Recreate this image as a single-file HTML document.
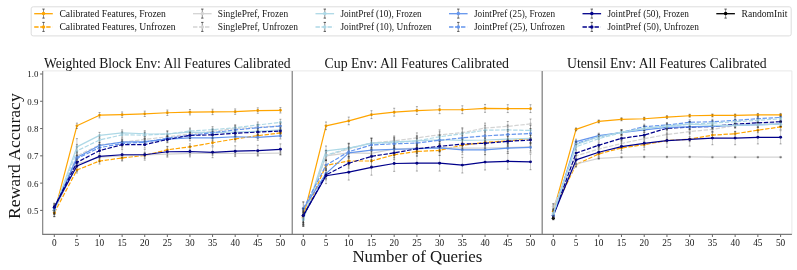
<!DOCTYPE html><html><head><meta charset="utf-8"><style>html,body{margin:0;padding:0;background:#fff;}svg{display:block;will-change:transform;}text{font-family:"Liberation Serif",serif;fill:#151515;}</style></head><body>
<svg width="797" height="270" viewBox="0 0 797 270">
<path d="M42.7 70.9H292.4V234.4" fill="none" stroke="#e8e8e8" stroke-width="1"/>
<path d="M292.2 70.9H541.9V234.4" fill="none" stroke="#e8e8e8" stroke-width="1"/>
<path d="M542.2 70.9H791.9V234.4" fill="none" stroke="#e8e8e8" stroke-width="1"/>
<circle cx="54.30" cy="210.40" r="1.6" fill="#000"/>
<path d="M54.30 204.40V216.40" fill="none" stroke="#333" stroke-width="0.5" stroke-opacity="0.5"/><path d="M53.30 204.40h2.0M53.30 216.40h2.0" fill="none" stroke="#222" stroke-width="0.6" stroke-opacity="0.65"/>
<polyline points="54.30,212.86 76.91,125.83 99.52,115.19 122.13,114.65 144.74,113.83 167.35,112.74 189.96,112.19 212.57,111.92 235.18,111.65 257.79,110.56 280.40,110.28" fill="none" stroke="#FFA500" stroke-width="1.2" stroke-linejoin="round"/>
<circle cx="54.30" cy="212.86" r="1.45" fill="#FFA500"/>
<circle cx="76.91" cy="125.83" r="1.45" fill="#FFA500"/>
<circle cx="99.52" cy="115.19" r="1.45" fill="#FFA500"/>
<circle cx="122.13" cy="114.65" r="1.45" fill="#FFA500"/>
<circle cx="144.74" cy="113.83" r="1.45" fill="#FFA500"/>
<circle cx="167.35" cy="112.74" r="1.45" fill="#FFA500"/>
<circle cx="189.96" cy="112.19" r="1.45" fill="#FFA500"/>
<circle cx="212.57" cy="111.92" r="1.45" fill="#FFA500"/>
<circle cx="235.18" cy="111.65" r="1.45" fill="#FFA500"/>
<circle cx="257.79" cy="110.56" r="1.45" fill="#FFA500"/>
<circle cx="280.40" cy="110.28" r="1.45" fill="#FFA500"/>
<path d="M54.30 209.04V216.67M76.91 123.13V128.53M99.52 112.49V117.89M122.13 111.95V117.35M144.74 111.13V116.53M167.35 110.04V115.44M189.96 109.49V114.89M212.57 109.22V114.62M235.18 108.95V114.35M257.79 107.85V113.26M280.40 107.58V112.98" fill="none" stroke="#333" stroke-width="0.5" stroke-opacity="0.5"/><path d="M53.30 209.04h2.0M53.30 216.67h2.0M75.91 123.13h2.0M75.91 128.53h2.0M98.52 112.49h2.0M98.52 117.89h2.0M121.13 111.95h2.0M121.13 117.35h2.0M143.74 111.13h2.0M143.74 116.53h2.0M166.35 110.04h2.0M166.35 115.44h2.0M188.96 109.49h2.0M188.96 114.89h2.0M211.57 109.22h2.0M211.57 114.62h2.0M234.18 108.95h2.0M234.18 114.35h2.0M256.79 107.85h2.0M256.79 113.26h2.0M279.40 107.58h2.0M279.40 112.98h2.0" fill="none" stroke="#222" stroke-width="0.6" stroke-opacity="0.65"/>
<polyline points="54.30,212.86 76.91,170.03 99.52,161.02 122.13,158.02 144.74,155.29 167.35,149.84 189.96,146.84 212.57,142.75 235.18,138.93 257.79,135.65 280.40,132.92" fill="none" stroke="#FFA500" stroke-width="1.2" stroke-linejoin="round" stroke-dasharray="4.4 1.6"/>
<circle cx="54.30" cy="212.86" r="1.45" fill="#FFA500"/>
<circle cx="76.91" cy="170.03" r="1.45" fill="#FFA500"/>
<circle cx="99.52" cy="161.02" r="1.45" fill="#FFA500"/>
<circle cx="122.13" cy="158.02" r="1.45" fill="#FFA500"/>
<circle cx="144.74" cy="155.29" r="1.45" fill="#FFA500"/>
<circle cx="167.35" cy="149.84" r="1.45" fill="#FFA500"/>
<circle cx="189.96" cy="146.84" r="1.45" fill="#FFA500"/>
<circle cx="212.57" cy="142.75" r="1.45" fill="#FFA500"/>
<circle cx="235.18" cy="138.93" r="1.45" fill="#FFA500"/>
<circle cx="257.79" cy="135.65" r="1.45" fill="#FFA500"/>
<circle cx="280.40" cy="132.92" r="1.45" fill="#FFA500"/>
<path d="M54.30 209.04V216.67M76.91 167.02V173.03M99.52 158.02V164.02M122.13 155.02V161.02M144.74 152.29V158.30M167.35 146.84V152.84M189.96 143.84V149.84M212.57 139.74V145.75M235.18 135.93V141.93M257.79 132.65V138.65M280.40 129.92V135.93" fill="none" stroke="#333" stroke-width="0.5" stroke-opacity="0.5"/><path d="M53.30 209.04h2.0M53.30 216.67h2.0M75.91 167.02h2.0M75.91 173.03h2.0M98.52 158.02h2.0M98.52 164.02h2.0M121.13 155.02h2.0M121.13 161.02h2.0M143.74 152.29h2.0M143.74 158.30h2.0M166.35 146.84h2.0M166.35 152.84h2.0M188.96 143.84h2.0M188.96 149.84h2.0M211.57 139.74h2.0M211.57 145.75h2.0M234.18 135.93h2.0M234.18 141.93h2.0M256.79 132.65h2.0M256.79 138.65h2.0M279.40 129.92h2.0M279.40 135.93h2.0" fill="none" stroke="#222" stroke-width="0.6" stroke-opacity="0.65"/>
<polyline points="54.30,210.40 76.91,164.02 99.52,157.20 122.13,155.84 144.74,155.02 167.35,154.20 189.96,153.38 212.57,153.38 235.18,153.38 257.79,153.38 280.40,153.11" fill="none" stroke="#D3D3D3" stroke-width="1.2" stroke-linejoin="round"/>
<circle cx="54.30" cy="210.40" r="1.45" fill="#D3D3D3"/>
<circle cx="76.91" cy="164.02" r="1.45" fill="#D3D3D3"/>
<circle cx="99.52" cy="157.20" r="1.45" fill="#D3D3D3"/>
<circle cx="122.13" cy="155.84" r="1.45" fill="#D3D3D3"/>
<circle cx="144.74" cy="155.02" r="1.45" fill="#D3D3D3"/>
<circle cx="167.35" cy="154.20" r="1.45" fill="#D3D3D3"/>
<circle cx="189.96" cy="153.38" r="1.45" fill="#D3D3D3"/>
<circle cx="212.57" cy="153.38" r="1.45" fill="#D3D3D3"/>
<circle cx="235.18" cy="153.38" r="1.45" fill="#D3D3D3"/>
<circle cx="257.79" cy="153.38" r="1.45" fill="#D3D3D3"/>
<circle cx="280.40" cy="153.11" r="1.45" fill="#D3D3D3"/>
<path d="M54.30 206.58V214.22M76.91 162.22V165.82M99.52 155.40V159.00M122.13 154.04V157.64M144.74 153.22V156.82M167.35 152.40V156.00M189.96 151.58V155.19M212.57 151.58V155.19M235.18 151.58V155.19M257.79 151.58V155.19M280.40 151.31V154.91" fill="none" stroke="#333" stroke-width="0.5" stroke-opacity="0.5"/><path d="M53.30 206.58h2.0M53.30 214.22h2.0M75.91 162.22h2.0M75.91 165.82h2.0M98.52 155.40h2.0M98.52 159.00h2.0M121.13 154.04h2.0M121.13 157.64h2.0M143.74 153.22h2.0M143.74 156.82h2.0M166.35 152.40h2.0M166.35 156.00h2.0M188.96 151.58h2.0M188.96 155.19h2.0M211.57 151.58h2.0M211.57 155.19h2.0M234.18 151.58h2.0M234.18 155.19h2.0M256.79 151.58h2.0M256.79 155.19h2.0M279.40 151.31h2.0M279.40 154.91h2.0" fill="none" stroke="#222" stroke-width="0.6" stroke-opacity="0.65"/>
<polyline points="54.30,210.40 76.91,155.84 99.52,144.93 122.13,142.20 144.74,139.47 167.35,136.74 189.96,134.02 212.57,131.29 235.18,128.56 257.79,127.20 280.40,125.83" fill="none" stroke="#D3D3D3" stroke-width="1.2" stroke-linejoin="round" stroke-dasharray="4.4 1.6"/>
<circle cx="54.30" cy="210.40" r="1.45" fill="#D3D3D3"/>
<circle cx="76.91" cy="155.84" r="1.45" fill="#D3D3D3"/>
<circle cx="99.52" cy="144.93" r="1.45" fill="#D3D3D3"/>
<circle cx="122.13" cy="142.20" r="1.45" fill="#D3D3D3"/>
<circle cx="144.74" cy="139.47" r="1.45" fill="#D3D3D3"/>
<circle cx="167.35" cy="136.74" r="1.45" fill="#D3D3D3"/>
<circle cx="189.96" cy="134.02" r="1.45" fill="#D3D3D3"/>
<circle cx="212.57" cy="131.29" r="1.45" fill="#D3D3D3"/>
<circle cx="235.18" cy="128.56" r="1.45" fill="#D3D3D3"/>
<circle cx="257.79" cy="127.20" r="1.45" fill="#D3D3D3"/>
<circle cx="280.40" cy="125.83" r="1.45" fill="#D3D3D3"/>
<path d="M54.30 206.58V214.22M76.91 152.84V158.84M99.52 141.93V147.93M122.13 139.20V145.20M144.74 136.47V142.47M167.35 133.74V139.74M189.96 131.02V137.02M212.57 128.29V134.29M235.18 125.56V131.56M257.79 124.20V130.20M280.40 122.83V128.83" fill="none" stroke="#333" stroke-width="0.5" stroke-opacity="0.5"/><path d="M53.30 206.58h2.0M53.30 214.22h2.0M75.91 152.84h2.0M75.91 158.84h2.0M98.52 141.93h2.0M98.52 147.93h2.0M121.13 139.20h2.0M121.13 145.20h2.0M143.74 136.47h2.0M143.74 142.47h2.0M166.35 133.74h2.0M166.35 139.74h2.0M188.96 131.02h2.0M188.96 137.02h2.0M211.57 128.29h2.0M211.57 134.29h2.0M234.18 125.56h2.0M234.18 131.56h2.0M256.79 124.20h2.0M256.79 130.20h2.0M279.40 122.83h2.0M279.40 128.83h2.0" fill="none" stroke="#222" stroke-width="0.6" stroke-opacity="0.65"/>
<polyline points="54.30,210.13 76.91,146.84 99.52,135.38 122.13,132.92 144.74,133.74 167.35,134.02 189.96,132.11 212.57,132.65 235.18,132.11 257.79,131.29 280.40,129.92" fill="none" stroke="#ADD8E6" stroke-width="1.2" stroke-linejoin="round"/>
<circle cx="54.30" cy="210.13" r="1.45" fill="#ADD8E6"/>
<circle cx="76.91" cy="146.84" r="1.45" fill="#ADD8E6"/>
<circle cx="99.52" cy="135.38" r="1.45" fill="#ADD8E6"/>
<circle cx="122.13" cy="132.92" r="1.45" fill="#ADD8E6"/>
<circle cx="144.74" cy="133.74" r="1.45" fill="#ADD8E6"/>
<circle cx="167.35" cy="134.02" r="1.45" fill="#ADD8E6"/>
<circle cx="189.96" cy="132.11" r="1.45" fill="#ADD8E6"/>
<circle cx="212.57" cy="132.65" r="1.45" fill="#ADD8E6"/>
<circle cx="235.18" cy="132.11" r="1.45" fill="#ADD8E6"/>
<circle cx="257.79" cy="131.29" r="1.45" fill="#ADD8E6"/>
<circle cx="280.40" cy="129.92" r="1.45" fill="#ADD8E6"/>
<path d="M54.30 206.31V213.95M76.91 138.65V155.02M99.52 132.38V138.38M122.13 129.92V135.93M144.74 130.74V136.74M167.35 131.02V137.02M189.96 129.11V135.11M212.57 129.65V135.65M235.18 129.11V135.11M257.79 128.29V134.29M280.40 126.92V132.92" fill="none" stroke="#333" stroke-width="0.5" stroke-opacity="0.5"/><path d="M53.30 206.31h2.0M53.30 213.95h2.0M75.91 138.65h2.0M75.91 155.02h2.0M98.52 132.38h2.0M98.52 138.38h2.0M121.13 129.92h2.0M121.13 135.93h2.0M143.74 130.74h2.0M143.74 136.74h2.0M166.35 131.02h2.0M166.35 137.02h2.0M188.96 129.11h2.0M188.96 135.11h2.0M211.57 129.65h2.0M211.57 135.65h2.0M234.18 129.11h2.0M234.18 135.11h2.0M256.79 128.29h2.0M256.79 134.29h2.0M279.40 126.92h2.0M279.40 132.92h2.0" fill="none" stroke="#222" stroke-width="0.6" stroke-opacity="0.65"/>
<polyline points="54.30,210.13 76.91,150.93 99.52,140.02 122.13,134.83 144.74,135.11 167.35,134.02 189.96,131.02 212.57,129.65 235.18,127.74 257.79,125.01 280.40,122.29" fill="none" stroke="#ADD8E6" stroke-width="1.2" stroke-linejoin="round" stroke-dasharray="4.4 1.6"/>
<circle cx="54.30" cy="210.13" r="1.45" fill="#ADD8E6"/>
<circle cx="76.91" cy="150.93" r="1.45" fill="#ADD8E6"/>
<circle cx="99.52" cy="140.02" r="1.45" fill="#ADD8E6"/>
<circle cx="122.13" cy="134.83" r="1.45" fill="#ADD8E6"/>
<circle cx="144.74" cy="135.11" r="1.45" fill="#ADD8E6"/>
<circle cx="167.35" cy="134.02" r="1.45" fill="#ADD8E6"/>
<circle cx="189.96" cy="131.02" r="1.45" fill="#ADD8E6"/>
<circle cx="212.57" cy="129.65" r="1.45" fill="#ADD8E6"/>
<circle cx="235.18" cy="127.74" r="1.45" fill="#ADD8E6"/>
<circle cx="257.79" cy="125.01" r="1.45" fill="#ADD8E6"/>
<circle cx="280.40" cy="122.29" r="1.45" fill="#ADD8E6"/>
<path d="M54.30 206.31V213.95M76.91 144.38V157.48M99.52 137.02V143.02M122.13 131.83V137.84M144.74 132.11V138.11M167.35 131.02V137.02M189.96 128.01V134.02M212.57 126.65V132.65M235.18 124.74V130.74M257.79 122.01V128.01M280.40 119.28V125.29" fill="none" stroke="#333" stroke-width="0.5" stroke-opacity="0.5"/><path d="M53.30 206.31h2.0M53.30 213.95h2.0M75.91 144.38h2.0M75.91 157.48h2.0M98.52 137.02h2.0M98.52 143.02h2.0M121.13 131.83h2.0M121.13 137.84h2.0M143.74 132.11h2.0M143.74 138.11h2.0M166.35 131.02h2.0M166.35 137.02h2.0M188.96 128.01h2.0M188.96 134.02h2.0M211.57 126.65h2.0M211.57 132.65h2.0M234.18 124.74h2.0M234.18 130.74h2.0M256.79 122.01h2.0M256.79 128.01h2.0M279.40 119.28h2.0M279.40 125.29h2.0" fill="none" stroke="#222" stroke-width="0.6" stroke-opacity="0.65"/>
<polyline points="54.30,209.04 76.91,157.48 99.52,145.47 122.13,142.20 144.74,141.65 167.35,139.20 189.96,137.84 212.57,137.84 235.18,136.74 257.79,137.29 280.40,135.93" fill="none" stroke="#6495ED" stroke-width="1.2" stroke-linejoin="round"/>
<circle cx="54.30" cy="209.04" r="1.45" fill="#6495ED"/>
<circle cx="76.91" cy="157.48" r="1.45" fill="#6495ED"/>
<circle cx="99.52" cy="145.47" r="1.45" fill="#6495ED"/>
<circle cx="122.13" cy="142.20" r="1.45" fill="#6495ED"/>
<circle cx="144.74" cy="141.65" r="1.45" fill="#6495ED"/>
<circle cx="167.35" cy="139.20" r="1.45" fill="#6495ED"/>
<circle cx="189.96" cy="137.84" r="1.45" fill="#6495ED"/>
<circle cx="212.57" cy="137.84" r="1.45" fill="#6495ED"/>
<circle cx="235.18" cy="136.74" r="1.45" fill="#6495ED"/>
<circle cx="257.79" cy="137.29" r="1.45" fill="#6495ED"/>
<circle cx="280.40" cy="135.93" r="1.45" fill="#6495ED"/>
<path d="M54.30 205.22V212.86M76.91 152.02V162.93M99.52 142.47V148.47M122.13 139.20V145.20M144.74 138.65V144.66M167.35 136.20V142.20M189.96 134.83V140.84M212.57 134.83V140.84M235.18 133.74V139.74M257.79 134.29V140.29M280.40 132.92V138.93" fill="none" stroke="#333" stroke-width="0.5" stroke-opacity="0.5"/><path d="M53.30 205.22h2.0M53.30 212.86h2.0M75.91 152.02h2.0M75.91 162.93h2.0M98.52 142.47h2.0M98.52 148.47h2.0M121.13 139.20h2.0M121.13 145.20h2.0M143.74 138.65h2.0M143.74 144.66h2.0M166.35 136.20h2.0M166.35 142.20h2.0M188.96 134.83h2.0M188.96 140.84h2.0M211.57 134.83h2.0M211.57 140.84h2.0M234.18 133.74h2.0M234.18 139.74h2.0M256.79 134.29h2.0M256.79 140.29h2.0M279.40 132.92h2.0M279.40 138.93h2.0" fill="none" stroke="#222" stroke-width="0.6" stroke-opacity="0.65"/>
<polyline points="54.30,209.04 76.91,158.57 99.52,147.66 122.13,143.56 144.74,142.20 167.35,138.11 189.96,135.38 212.57,132.65 235.18,129.92 257.79,127.74 280.40,126.10" fill="none" stroke="#6495ED" stroke-width="1.2" stroke-linejoin="round" stroke-dasharray="4.4 1.6"/>
<circle cx="54.30" cy="209.04" r="1.45" fill="#6495ED"/>
<circle cx="76.91" cy="158.57" r="1.45" fill="#6495ED"/>
<circle cx="99.52" cy="147.66" r="1.45" fill="#6495ED"/>
<circle cx="122.13" cy="143.56" r="1.45" fill="#6495ED"/>
<circle cx="144.74" cy="142.20" r="1.45" fill="#6495ED"/>
<circle cx="167.35" cy="138.11" r="1.45" fill="#6495ED"/>
<circle cx="189.96" cy="135.38" r="1.45" fill="#6495ED"/>
<circle cx="212.57" cy="132.65" r="1.45" fill="#6495ED"/>
<circle cx="235.18" cy="129.92" r="1.45" fill="#6495ED"/>
<circle cx="257.79" cy="127.74" r="1.45" fill="#6495ED"/>
<circle cx="280.40" cy="126.10" r="1.45" fill="#6495ED"/>
<path d="M54.30 205.22V212.86M76.91 155.57V161.57M99.52 144.66V150.66M122.13 140.56V146.56M144.74 139.20V145.20M167.35 135.11V141.11M189.96 132.38V138.38M212.57 129.65V135.65M235.18 126.92V132.92M257.79 124.74V130.74M280.40 123.10V129.11" fill="none" stroke="#333" stroke-width="0.5" stroke-opacity="0.5"/><path d="M53.30 205.22h2.0M53.30 212.86h2.0M75.91 155.57h2.0M75.91 161.57h2.0M98.52 144.66h2.0M98.52 150.66h2.0M121.13 140.56h2.0M121.13 146.56h2.0M143.74 139.20h2.0M143.74 145.20h2.0M166.35 135.11h2.0M166.35 141.11h2.0M188.96 132.38h2.0M188.96 138.38h2.0M211.57 129.65h2.0M211.57 135.65h2.0M234.18 126.92h2.0M234.18 132.92h2.0M256.79 124.74h2.0M256.79 130.74h2.0M279.40 123.10h2.0M279.40 129.11h2.0" fill="none" stroke="#222" stroke-width="0.6" stroke-opacity="0.65"/>
<polyline points="54.30,207.13 76.91,165.93 99.52,156.39 122.13,154.75 144.74,154.75 167.35,151.75 189.96,151.48 212.57,152.29 235.18,151.20 257.79,150.66 280.40,149.29" fill="none" stroke="#00008B" stroke-width="1.2" stroke-linejoin="round"/>
<circle cx="54.30" cy="207.13" r="1.45" fill="#00008B"/>
<circle cx="76.91" cy="165.93" r="1.45" fill="#00008B"/>
<circle cx="99.52" cy="156.39" r="1.45" fill="#00008B"/>
<circle cx="122.13" cy="154.75" r="1.45" fill="#00008B"/>
<circle cx="144.74" cy="154.75" r="1.45" fill="#00008B"/>
<circle cx="167.35" cy="151.75" r="1.45" fill="#00008B"/>
<circle cx="189.96" cy="151.48" r="1.45" fill="#00008B"/>
<circle cx="212.57" cy="152.29" r="1.45" fill="#00008B"/>
<circle cx="235.18" cy="151.20" r="1.45" fill="#00008B"/>
<circle cx="257.79" cy="150.66" r="1.45" fill="#00008B"/>
<circle cx="280.40" cy="149.29" r="1.45" fill="#00008B"/>
<path d="M54.30 203.31V210.95M76.91 160.53V171.34M99.52 150.98V161.79M122.13 149.35V160.15M144.74 149.35V160.15M167.35 146.35V157.15M189.96 146.07V156.88M212.57 146.89V157.70M235.18 145.80V156.60M257.79 145.26V156.06M280.40 143.89V154.69" fill="none" stroke="#333" stroke-width="0.5" stroke-opacity="0.5"/><path d="M53.30 203.31h2.0M53.30 210.95h2.0M75.91 160.53h2.0M75.91 171.34h2.0M98.52 150.98h2.0M98.52 161.79h2.0M121.13 149.35h2.0M121.13 160.15h2.0M143.74 149.35h2.0M143.74 160.15h2.0M166.35 146.35h2.0M166.35 157.15h2.0M188.96 146.07h2.0M188.96 156.88h2.0M211.57 146.89h2.0M211.57 157.70h2.0M234.18 145.80h2.0M234.18 156.60h2.0M256.79 145.26h2.0M256.79 156.06h2.0M279.40 143.89h2.0M279.40 154.69h2.0" fill="none" stroke="#222" stroke-width="0.6" stroke-opacity="0.65"/>
<polyline points="54.30,207.13 76.91,162.39 99.52,150.66 122.13,144.66 144.74,144.66 167.35,139.47 189.96,135.38 212.57,134.83 235.18,133.20 257.79,132.11 280.40,131.02" fill="none" stroke="#00008B" stroke-width="1.2" stroke-linejoin="round" stroke-dasharray="4.4 1.6"/>
<circle cx="54.30" cy="207.13" r="1.45" fill="#00008B"/>
<circle cx="76.91" cy="162.39" r="1.45" fill="#00008B"/>
<circle cx="99.52" cy="150.66" r="1.45" fill="#00008B"/>
<circle cx="122.13" cy="144.66" r="1.45" fill="#00008B"/>
<circle cx="144.74" cy="144.66" r="1.45" fill="#00008B"/>
<circle cx="167.35" cy="139.47" r="1.45" fill="#00008B"/>
<circle cx="189.96" cy="135.38" r="1.45" fill="#00008B"/>
<circle cx="212.57" cy="134.83" r="1.45" fill="#00008B"/>
<circle cx="235.18" cy="133.20" r="1.45" fill="#00008B"/>
<circle cx="257.79" cy="132.11" r="1.45" fill="#00008B"/>
<circle cx="280.40" cy="131.02" r="1.45" fill="#00008B"/>
<path d="M54.30 203.31V210.95M76.91 159.09V165.69M99.52 147.36V153.96M122.13 141.35V147.96M144.74 141.35V147.96M167.35 136.17V142.77M189.96 132.08V138.68M212.57 131.53V138.14M235.18 129.90V136.50M257.79 128.81V135.41M280.40 127.71V134.32" fill="none" stroke="#333" stroke-width="0.5" stroke-opacity="0.5"/><path d="M53.30 203.31h2.0M53.30 210.95h2.0M75.91 159.09h2.0M75.91 165.69h2.0M98.52 147.36h2.0M98.52 153.96h2.0M121.13 141.35h2.0M121.13 147.96h2.0M143.74 141.35h2.0M143.74 147.96h2.0M166.35 136.17h2.0M166.35 142.77h2.0M188.96 132.08h2.0M188.96 138.68h2.0M211.57 131.53h2.0M211.57 138.14h2.0M234.18 129.90h2.0M234.18 136.50h2.0M256.79 128.81h2.0M256.79 135.41h2.0M279.40 127.71h2.0M279.40 134.32h2.0" fill="none" stroke="#222" stroke-width="0.6" stroke-opacity="0.65"/>
<circle cx="303.30" cy="215.86" r="1.6" fill="#000"/>
<path d="M303.30 207.67V224.04" fill="none" stroke="#333" stroke-width="0.5" stroke-opacity="0.5"/><path d="M302.30 207.67h2.0M302.30 224.04h2.0" fill="none" stroke="#222" stroke-width="0.6" stroke-opacity="0.65"/>
<polyline points="303.30,217.49 326.02,125.83 348.74,120.92 371.46,114.65 394.18,112.19 416.90,110.56 439.62,109.74 462.34,109.74 485.06,108.37 507.78,108.65 530.50,108.65" fill="none" stroke="#FFA500" stroke-width="1.2" stroke-linejoin="round"/>
<circle cx="303.30" cy="217.49" r="1.45" fill="#FFA500"/>
<circle cx="326.02" cy="125.83" r="1.45" fill="#FFA500"/>
<circle cx="348.74" cy="120.92" r="1.45" fill="#FFA500"/>
<circle cx="371.46" cy="114.65" r="1.45" fill="#FFA500"/>
<circle cx="394.18" cy="112.19" r="1.45" fill="#FFA500"/>
<circle cx="416.90" cy="110.56" r="1.45" fill="#FFA500"/>
<circle cx="439.62" cy="109.74" r="1.45" fill="#FFA500"/>
<circle cx="462.34" cy="109.74" r="1.45" fill="#FFA500"/>
<circle cx="485.06" cy="108.37" r="1.45" fill="#FFA500"/>
<circle cx="507.78" cy="108.65" r="1.45" fill="#FFA500"/>
<circle cx="530.50" cy="108.65" r="1.45" fill="#FFA500"/>
<path d="M303.30 210.67V224.31M326.02 122.01V129.65M348.74 117.10V124.74M371.46 110.72V118.58M394.18 108.26V116.12M416.90 106.63V114.48M439.62 105.81V113.67M462.34 105.81V113.67M485.06 104.44V112.30M507.78 104.72V112.57M530.50 104.72V112.57" fill="none" stroke="#333" stroke-width="0.5" stroke-opacity="0.5"/><path d="M302.30 210.67h2.0M302.30 224.31h2.0M325.02 122.01h2.0M325.02 129.65h2.0M347.74 117.10h2.0M347.74 124.74h2.0M370.46 110.72h2.0M370.46 118.58h2.0M393.18 108.26h2.0M393.18 116.12h2.0M415.90 106.63h2.0M415.90 114.48h2.0M438.62 105.81h2.0M438.62 113.67h2.0M461.34 105.81h2.0M461.34 113.67h2.0M484.06 104.44h2.0M484.06 112.30h2.0M506.78 104.72h2.0M506.78 112.57h2.0M529.50 104.72h2.0M529.50 112.57h2.0" fill="none" stroke="#222" stroke-width="0.6" stroke-opacity="0.65"/>
<polyline points="303.30,217.49 326.02,165.39 348.74,161.02 371.46,161.02 394.18,154.75 416.90,151.48 439.62,150.38 462.34,145.20 485.06,142.47 507.78,140.84 530.50,138.38" fill="none" stroke="#FFA500" stroke-width="1.2" stroke-linejoin="round" stroke-dasharray="4.4 1.6"/>
<circle cx="303.30" cy="217.49" r="1.45" fill="#FFA500"/>
<circle cx="326.02" cy="165.39" r="1.45" fill="#FFA500"/>
<circle cx="348.74" cy="161.02" r="1.45" fill="#FFA500"/>
<circle cx="371.46" cy="161.02" r="1.45" fill="#FFA500"/>
<circle cx="394.18" cy="154.75" r="1.45" fill="#FFA500"/>
<circle cx="416.90" cy="151.48" r="1.45" fill="#FFA500"/>
<circle cx="439.62" cy="150.38" r="1.45" fill="#FFA500"/>
<circle cx="462.34" cy="145.20" r="1.45" fill="#FFA500"/>
<circle cx="485.06" cy="142.47" r="1.45" fill="#FFA500"/>
<circle cx="507.78" cy="140.84" r="1.45" fill="#FFA500"/>
<circle cx="530.50" cy="138.38" r="1.45" fill="#FFA500"/>
<path d="M303.30 210.67V224.31M326.02 160.48V170.30M348.74 156.11V165.93M371.46 156.11V165.93M394.18 149.84V159.66M416.90 146.56V156.39M439.62 145.47V155.29M462.34 140.29V150.11M485.06 137.56V147.38M507.78 135.93V145.75M530.50 133.47V143.29" fill="none" stroke="#333" stroke-width="0.5" stroke-opacity="0.5"/><path d="M302.30 210.67h2.0M302.30 224.31h2.0M325.02 160.48h2.0M325.02 170.30h2.0M347.74 156.11h2.0M347.74 165.93h2.0M370.46 156.11h2.0M370.46 165.93h2.0M393.18 149.84h2.0M393.18 159.66h2.0M415.90 146.56h2.0M415.90 156.39h2.0M438.62 145.47h2.0M438.62 155.29h2.0M461.34 140.29h2.0M461.34 150.11h2.0M484.06 137.56h2.0M484.06 147.38h2.0M506.78 135.93h2.0M506.78 145.75h2.0M529.50 133.47h2.0M529.50 143.29h2.0" fill="none" stroke="#222" stroke-width="0.6" stroke-opacity="0.65"/>
<polyline points="303.30,218.58 326.02,155.84 348.74,152.84 371.46,153.38 394.18,149.02 416.90,148.20 439.62,147.66 462.34,148.20 485.06,148.20 507.78,147.66 530.50,146.84" fill="none" stroke="#D3D3D3" stroke-width="1.2" stroke-linejoin="round"/>
<circle cx="303.30" cy="218.58" r="1.45" fill="#D3D3D3"/>
<circle cx="326.02" cy="155.84" r="1.45" fill="#D3D3D3"/>
<circle cx="348.74" cy="152.84" r="1.45" fill="#D3D3D3"/>
<circle cx="371.46" cy="153.38" r="1.45" fill="#D3D3D3"/>
<circle cx="394.18" cy="149.02" r="1.45" fill="#D3D3D3"/>
<circle cx="416.90" cy="148.20" r="1.45" fill="#D3D3D3"/>
<circle cx="439.62" cy="147.66" r="1.45" fill="#D3D3D3"/>
<circle cx="462.34" cy="148.20" r="1.45" fill="#D3D3D3"/>
<circle cx="485.06" cy="148.20" r="1.45" fill="#D3D3D3"/>
<circle cx="507.78" cy="147.66" r="1.45" fill="#D3D3D3"/>
<circle cx="530.50" cy="146.84" r="1.45" fill="#D3D3D3"/>
<path d="M303.30 211.76V225.40M326.02 151.91V159.77M348.74 148.91V156.77M371.46 149.46V157.31M394.18 145.09V152.95M416.90 144.27V152.13M439.62 143.73V151.58M462.34 144.27V152.13M485.06 144.27V152.13M507.78 143.73V151.58M530.50 142.91V150.77" fill="none" stroke="#333" stroke-width="0.5" stroke-opacity="0.5"/><path d="M302.30 211.76h2.0M302.30 225.40h2.0M325.02 151.91h2.0M325.02 159.77h2.0M347.74 148.91h2.0M347.74 156.77h2.0M370.46 149.46h2.0M370.46 157.31h2.0M393.18 145.09h2.0M393.18 152.95h2.0M415.90 144.27h2.0M415.90 152.13h2.0M438.62 143.73h2.0M438.62 151.58h2.0M461.34 144.27h2.0M461.34 152.13h2.0M484.06 144.27h2.0M484.06 152.13h2.0M506.78 143.73h2.0M506.78 151.58h2.0M529.50 142.91h2.0M529.50 150.77h2.0" fill="none" stroke="#222" stroke-width="0.6" stroke-opacity="0.65"/>
<polyline points="303.30,218.58 326.02,155.84 348.74,149.02 371.46,143.02 394.18,140.84 416.90,137.84 439.62,134.83 462.34,132.65 485.06,128.01 507.78,126.38 530.50,123.92" fill="none" stroke="#D3D3D3" stroke-width="1.2" stroke-linejoin="round" stroke-dasharray="4.4 1.6"/>
<circle cx="303.30" cy="218.58" r="1.45" fill="#D3D3D3"/>
<circle cx="326.02" cy="155.84" r="1.45" fill="#D3D3D3"/>
<circle cx="348.74" cy="149.02" r="1.45" fill="#D3D3D3"/>
<circle cx="371.46" cy="143.02" r="1.45" fill="#D3D3D3"/>
<circle cx="394.18" cy="140.84" r="1.45" fill="#D3D3D3"/>
<circle cx="416.90" cy="137.84" r="1.45" fill="#D3D3D3"/>
<circle cx="439.62" cy="134.83" r="1.45" fill="#D3D3D3"/>
<circle cx="462.34" cy="132.65" r="1.45" fill="#D3D3D3"/>
<circle cx="485.06" cy="128.01" r="1.45" fill="#D3D3D3"/>
<circle cx="507.78" cy="126.38" r="1.45" fill="#D3D3D3"/>
<circle cx="530.50" cy="123.92" r="1.45" fill="#D3D3D3"/>
<path d="M303.30 211.76V225.40M326.02 150.93V160.75M348.74 144.11V153.93M371.46 138.11V147.93M394.18 135.93V145.75M416.90 132.92V142.75M439.62 129.92V139.74M462.34 127.74V137.56M485.06 123.10V132.92M507.78 121.47V131.29M530.50 119.01V128.83" fill="none" stroke="#333" stroke-width="0.5" stroke-opacity="0.5"/><path d="M302.30 211.76h2.0M302.30 225.40h2.0M325.02 150.93h2.0M325.02 160.75h2.0M347.74 144.11h2.0M347.74 153.93h2.0M370.46 138.11h2.0M370.46 147.93h2.0M393.18 135.93h2.0M393.18 145.75h2.0M415.90 132.92h2.0M415.90 142.75h2.0M438.62 129.92h2.0M438.62 139.74h2.0M461.34 127.74h2.0M461.34 137.56h2.0M484.06 123.10h2.0M484.06 132.92h2.0M506.78 121.47h2.0M506.78 131.29h2.0M529.50 119.01h2.0M529.50 128.83h2.0" fill="none" stroke="#222" stroke-width="0.6" stroke-opacity="0.65"/>
<polyline points="303.30,219.68 326.02,150.93 348.74,148.20 371.46,143.29 394.18,141.93 416.90,140.84 439.62,139.74 462.34,140.29 485.06,140.02 507.78,139.20 530.50,138.38" fill="none" stroke="#ADD8E6" stroke-width="1.2" stroke-linejoin="round"/>
<circle cx="303.30" cy="219.68" r="1.45" fill="#ADD8E6"/>
<circle cx="326.02" cy="150.93" r="1.45" fill="#ADD8E6"/>
<circle cx="348.74" cy="148.20" r="1.45" fill="#ADD8E6"/>
<circle cx="371.46" cy="143.29" r="1.45" fill="#ADD8E6"/>
<circle cx="394.18" cy="141.93" r="1.45" fill="#ADD8E6"/>
<circle cx="416.90" cy="140.84" r="1.45" fill="#ADD8E6"/>
<circle cx="439.62" cy="139.74" r="1.45" fill="#ADD8E6"/>
<circle cx="462.34" cy="140.29" r="1.45" fill="#ADD8E6"/>
<circle cx="485.06" cy="140.02" r="1.45" fill="#ADD8E6"/>
<circle cx="507.78" cy="139.20" r="1.45" fill="#ADD8E6"/>
<circle cx="530.50" cy="138.38" r="1.45" fill="#ADD8E6"/>
<path d="M303.30 212.86V226.50M326.02 146.02V155.84M348.74 143.29V153.11M371.46 138.38V148.20M394.18 137.02V146.84M416.90 135.93V145.75M439.62 134.83V144.66M462.34 135.38V145.20M485.06 135.11V144.93M507.78 134.29V144.11M530.50 133.47V143.29" fill="none" stroke="#333" stroke-width="0.5" stroke-opacity="0.5"/><path d="M302.30 212.86h2.0M302.30 226.50h2.0M325.02 146.02h2.0M325.02 155.84h2.0M347.74 143.29h2.0M347.74 153.11h2.0M370.46 138.38h2.0M370.46 148.20h2.0M393.18 137.02h2.0M393.18 146.84h2.0M415.90 135.93h2.0M415.90 145.75h2.0M438.62 134.83h2.0M438.62 144.66h2.0M461.34 135.38h2.0M461.34 145.20h2.0M484.06 135.11h2.0M484.06 144.93h2.0M506.78 134.29h2.0M506.78 144.11h2.0M529.50 133.47h2.0M529.50 143.29h2.0" fill="none" stroke="#222" stroke-width="0.6" stroke-opacity="0.65"/>
<polyline points="303.30,219.68 326.02,155.29 348.74,148.20 371.46,143.02 394.18,142.75 416.90,140.84 439.62,136.74 462.34,133.74 485.06,130.20 507.78,129.92 530.50,130.47" fill="none" stroke="#ADD8E6" stroke-width="1.2" stroke-linejoin="round" stroke-dasharray="4.4 1.6"/>
<circle cx="303.30" cy="219.68" r="1.45" fill="#ADD8E6"/>
<circle cx="326.02" cy="155.29" r="1.45" fill="#ADD8E6"/>
<circle cx="348.74" cy="148.20" r="1.45" fill="#ADD8E6"/>
<circle cx="371.46" cy="143.02" r="1.45" fill="#ADD8E6"/>
<circle cx="394.18" cy="142.75" r="1.45" fill="#ADD8E6"/>
<circle cx="416.90" cy="140.84" r="1.45" fill="#ADD8E6"/>
<circle cx="439.62" cy="136.74" r="1.45" fill="#ADD8E6"/>
<circle cx="462.34" cy="133.74" r="1.45" fill="#ADD8E6"/>
<circle cx="485.06" cy="130.20" r="1.45" fill="#ADD8E6"/>
<circle cx="507.78" cy="129.92" r="1.45" fill="#ADD8E6"/>
<circle cx="530.50" cy="130.47" r="1.45" fill="#ADD8E6"/>
<path d="M303.30 212.86V226.50M326.02 150.38V160.20M348.74 143.29V153.11M371.46 138.11V147.93M394.18 137.84V147.66M416.90 135.93V145.75M439.62 131.83V141.65M462.34 128.83V138.65M485.06 125.29V135.11M507.78 125.01V134.83M530.50 125.56V135.38" fill="none" stroke="#333" stroke-width="0.5" stroke-opacity="0.5"/><path d="M302.30 212.86h2.0M302.30 226.50h2.0M325.02 150.38h2.0M325.02 160.20h2.0M347.74 143.29h2.0M347.74 153.11h2.0M370.46 138.11h2.0M370.46 147.93h2.0M393.18 137.84h2.0M393.18 147.66h2.0M415.90 135.93h2.0M415.90 145.75h2.0M438.62 131.83h2.0M438.62 141.65h2.0M461.34 128.83h2.0M461.34 138.65h2.0M484.06 125.29h2.0M484.06 135.11h2.0M506.78 125.01h2.0M506.78 134.83h2.0M529.50 125.56h2.0M529.50 135.38h2.0" fill="none" stroke="#222" stroke-width="0.6" stroke-opacity="0.65"/>
<polyline points="303.30,208.76 326.02,173.57 348.74,152.84 371.46,150.11 394.18,149.29 416.90,148.75 439.62,147.93 462.34,149.84 485.06,149.84 507.78,148.20 530.50,147.38" fill="none" stroke="#6495ED" stroke-width="1.2" stroke-linejoin="round"/>
<circle cx="303.30" cy="208.76" r="1.45" fill="#6495ED"/>
<circle cx="326.02" cy="173.57" r="1.45" fill="#6495ED"/>
<circle cx="348.74" cy="152.84" r="1.45" fill="#6495ED"/>
<circle cx="371.46" cy="150.11" r="1.45" fill="#6495ED"/>
<circle cx="394.18" cy="149.29" r="1.45" fill="#6495ED"/>
<circle cx="416.90" cy="148.75" r="1.45" fill="#6495ED"/>
<circle cx="439.62" cy="147.93" r="1.45" fill="#6495ED"/>
<circle cx="462.34" cy="149.84" r="1.45" fill="#6495ED"/>
<circle cx="485.06" cy="149.84" r="1.45" fill="#6495ED"/>
<circle cx="507.78" cy="148.20" r="1.45" fill="#6495ED"/>
<circle cx="530.50" cy="147.38" r="1.45" fill="#6495ED"/>
<path d="M303.30 201.94V215.58M326.02 168.66V178.48M348.74 147.93V157.75M371.46 145.20V155.02M394.18 144.38V154.20M416.90 143.84V153.66M439.62 143.02V152.84M462.34 144.93V154.75M485.06 144.93V154.75M507.78 143.29V153.11M530.50 142.47V152.29" fill="none" stroke="#333" stroke-width="0.5" stroke-opacity="0.5"/><path d="M302.30 201.94h2.0M302.30 215.58h2.0M325.02 168.66h2.0M325.02 178.48h2.0M347.74 147.93h2.0M347.74 157.75h2.0M370.46 145.20h2.0M370.46 155.02h2.0M393.18 144.38h2.0M393.18 154.20h2.0M415.90 143.84h2.0M415.90 153.66h2.0M438.62 143.02h2.0M438.62 152.84h2.0M461.34 144.93h2.0M461.34 154.75h2.0M484.06 144.93h2.0M484.06 154.75h2.0M506.78 143.29h2.0M506.78 153.11h2.0M529.50 142.47h2.0M529.50 152.29h2.0" fill="none" stroke="#222" stroke-width="0.6" stroke-opacity="0.65"/>
<polyline points="303.30,208.76 326.02,165.12 348.74,151.75 371.46,144.93 394.18,143.84 416.90,143.02 439.62,140.29 462.34,137.84 485.06,135.93 507.78,134.56 530.50,133.47" fill="none" stroke="#6495ED" stroke-width="1.2" stroke-linejoin="round" stroke-dasharray="4.4 1.6"/>
<circle cx="303.30" cy="208.76" r="1.45" fill="#6495ED"/>
<circle cx="326.02" cy="165.12" r="1.45" fill="#6495ED"/>
<circle cx="348.74" cy="151.75" r="1.45" fill="#6495ED"/>
<circle cx="371.46" cy="144.93" r="1.45" fill="#6495ED"/>
<circle cx="394.18" cy="143.84" r="1.45" fill="#6495ED"/>
<circle cx="416.90" cy="143.02" r="1.45" fill="#6495ED"/>
<circle cx="439.62" cy="140.29" r="1.45" fill="#6495ED"/>
<circle cx="462.34" cy="137.84" r="1.45" fill="#6495ED"/>
<circle cx="485.06" cy="135.93" r="1.45" fill="#6495ED"/>
<circle cx="507.78" cy="134.56" r="1.45" fill="#6495ED"/>
<circle cx="530.50" cy="133.47" r="1.45" fill="#6495ED"/>
<path d="M303.30 201.94V215.58M326.02 160.20V170.03M348.74 146.84V156.66M371.46 140.02V149.84M394.18 138.93V148.75M416.90 138.11V147.93M439.62 135.38V145.20M462.34 132.92V142.75M485.06 131.02V140.84M507.78 129.65V139.47M530.50 128.56V138.38" fill="none" stroke="#333" stroke-width="0.5" stroke-opacity="0.5"/><path d="M302.30 201.94h2.0M302.30 215.58h2.0M325.02 160.20h2.0M325.02 170.03h2.0M347.74 146.84h2.0M347.74 156.66h2.0M370.46 140.02h2.0M370.46 149.84h2.0M393.18 138.93h2.0M393.18 148.75h2.0M415.90 138.11h2.0M415.90 147.93h2.0M438.62 135.38h2.0M438.62 145.20h2.0M461.34 132.92h2.0M461.34 142.75h2.0M484.06 131.02h2.0M484.06 140.84h2.0M506.78 129.65h2.0M506.78 139.47h2.0M529.50 128.56h2.0M529.50 138.38h2.0" fill="none" stroke="#222" stroke-width="0.6" stroke-opacity="0.65"/>
<polyline points="303.30,215.58 326.02,175.75 348.74,172.21 371.46,167.30 394.18,163.48 416.90,163.21 439.62,163.21 462.34,165.12 485.06,162.11 507.78,161.30 530.50,161.84" fill="none" stroke="#00008B" stroke-width="1.2" stroke-linejoin="round"/>
<circle cx="303.30" cy="215.58" r="1.45" fill="#00008B"/>
<circle cx="326.02" cy="175.75" r="1.45" fill="#00008B"/>
<circle cx="348.74" cy="172.21" r="1.45" fill="#00008B"/>
<circle cx="371.46" cy="167.30" r="1.45" fill="#00008B"/>
<circle cx="394.18" cy="163.48" r="1.45" fill="#00008B"/>
<circle cx="416.90" cy="163.21" r="1.45" fill="#00008B"/>
<circle cx="439.62" cy="163.21" r="1.45" fill="#00008B"/>
<circle cx="462.34" cy="165.12" r="1.45" fill="#00008B"/>
<circle cx="485.06" cy="162.11" r="1.45" fill="#00008B"/>
<circle cx="507.78" cy="161.30" r="1.45" fill="#00008B"/>
<circle cx="530.50" cy="161.84" r="1.45" fill="#00008B"/>
<path d="M303.30 208.76V222.40M326.02 167.90V183.61M348.74 164.35V180.06M371.46 159.44V175.15M394.18 155.62V171.34M416.90 155.35V171.06M439.62 155.35V171.06M462.34 157.26V172.97M485.06 154.26V169.97M507.78 153.44V169.15M530.50 153.98V169.70" fill="none" stroke="#333" stroke-width="0.5" stroke-opacity="0.5"/><path d="M302.30 208.76h2.0M302.30 222.40h2.0M325.02 167.90h2.0M325.02 183.61h2.0M347.74 164.35h2.0M347.74 180.06h2.0M370.46 159.44h2.0M370.46 175.15h2.0M393.18 155.62h2.0M393.18 171.34h2.0M415.90 155.35h2.0M415.90 171.06h2.0M438.62 155.35h2.0M438.62 171.06h2.0M461.34 157.26h2.0M461.34 172.97h2.0M484.06 154.26h2.0M484.06 169.97h2.0M506.78 153.44h2.0M506.78 169.15h2.0M529.50 153.98h2.0M529.50 169.70h2.0" fill="none" stroke="#222" stroke-width="0.6" stroke-opacity="0.65"/>
<polyline points="303.30,215.58 326.02,174.94 348.74,163.21 371.46,156.39 394.18,152.84 416.90,148.75 439.62,146.29 462.34,144.11 485.06,143.29 507.78,141.38 530.50,140.02" fill="none" stroke="#00008B" stroke-width="1.2" stroke-linejoin="round" stroke-dasharray="4.4 1.6"/>
<circle cx="303.30" cy="215.58" r="1.45" fill="#00008B"/>
<circle cx="326.02" cy="174.94" r="1.45" fill="#00008B"/>
<circle cx="348.74" cy="163.21" r="1.45" fill="#00008B"/>
<circle cx="371.46" cy="156.39" r="1.45" fill="#00008B"/>
<circle cx="394.18" cy="152.84" r="1.45" fill="#00008B"/>
<circle cx="416.90" cy="148.75" r="1.45" fill="#00008B"/>
<circle cx="439.62" cy="146.29" r="1.45" fill="#00008B"/>
<circle cx="462.34" cy="144.11" r="1.45" fill="#00008B"/>
<circle cx="485.06" cy="143.29" r="1.45" fill="#00008B"/>
<circle cx="507.78" cy="141.38" r="1.45" fill="#00008B"/>
<circle cx="530.50" cy="140.02" r="1.45" fill="#00008B"/>
<path d="M303.30 208.76V222.40M326.02 170.03V179.85M348.74 158.30V168.12M371.46 151.48V161.30M394.18 147.93V157.75M416.90 143.84V153.66M439.62 141.38V151.20M462.34 139.20V149.02M485.06 138.38V148.20M507.78 136.47V146.29M530.50 135.11V144.93" fill="none" stroke="#333" stroke-width="0.5" stroke-opacity="0.5"/><path d="M302.30 208.76h2.0M302.30 222.40h2.0M325.02 170.03h2.0M325.02 179.85h2.0M347.74 158.30h2.0M347.74 168.12h2.0M370.46 151.48h2.0M370.46 161.30h2.0M393.18 147.93h2.0M393.18 157.75h2.0M415.90 143.84h2.0M415.90 153.66h2.0M438.62 141.38h2.0M438.62 151.20h2.0M461.34 139.20h2.0M461.34 149.02h2.0M484.06 138.38h2.0M484.06 148.20h2.0M506.78 136.47h2.0M506.78 146.29h2.0M529.50 135.11h2.0M529.50 144.93h2.0" fill="none" stroke="#222" stroke-width="0.6" stroke-opacity="0.65"/>
<circle cx="553.30" cy="218.31" r="1.6" fill="#000"/>
<path d="M553.30 216.67V219.95" fill="none" stroke="#333" stroke-width="0.5" stroke-opacity="0.5"/><path d="M552.30 216.67h2.0M552.30 219.95h2.0" fill="none" stroke="#222" stroke-width="0.6" stroke-opacity="0.65"/>
<polyline points="553.30,211.76 576.03,129.38 598.76,121.47 621.49,119.28 644.22,118.74 666.95,117.10 689.68,115.74 712.41,115.47 735.14,115.47 757.87,114.92 780.60,114.92" fill="none" stroke="#FFA500" stroke-width="1.2" stroke-linejoin="round"/>
<circle cx="553.30" cy="211.76" r="1.45" fill="#FFA500"/>
<circle cx="576.03" cy="129.38" r="1.45" fill="#FFA500"/>
<circle cx="598.76" cy="121.47" r="1.45" fill="#FFA500"/>
<circle cx="621.49" cy="119.28" r="1.45" fill="#FFA500"/>
<circle cx="644.22" cy="118.74" r="1.45" fill="#FFA500"/>
<circle cx="666.95" cy="117.10" r="1.45" fill="#FFA500"/>
<circle cx="689.68" cy="115.74" r="1.45" fill="#FFA500"/>
<circle cx="712.41" cy="115.47" r="1.45" fill="#FFA500"/>
<circle cx="735.14" cy="115.47" r="1.45" fill="#FFA500"/>
<circle cx="757.87" cy="114.92" r="1.45" fill="#FFA500"/>
<circle cx="780.60" cy="114.92" r="1.45" fill="#FFA500"/>
<path d="M553.30 209.04V214.49M576.03 127.91V130.85M598.76 119.99V122.94M621.49 117.81V120.76M644.22 117.27V120.21M666.95 115.63V118.58M689.68 114.27V117.21M712.41 113.99V116.94M735.14 113.99V116.94M757.87 113.45V116.39M780.60 113.45V116.39" fill="none" stroke="#333" stroke-width="0.5" stroke-opacity="0.5"/><path d="M552.30 209.04h2.0M552.30 214.49h2.0M575.03 127.91h2.0M575.03 130.85h2.0M597.76 119.99h2.0M597.76 122.94h2.0M620.49 117.81h2.0M620.49 120.76h2.0M643.22 117.27h2.0M643.22 120.21h2.0M665.95 115.63h2.0M665.95 118.58h2.0M688.68 114.27h2.0M688.68 117.21h2.0M711.41 113.99h2.0M711.41 116.94h2.0M734.14 113.99h2.0M734.14 116.94h2.0M756.87 113.45h2.0M756.87 116.39h2.0M779.60 113.45h2.0M779.60 116.39h2.0" fill="none" stroke="#222" stroke-width="0.6" stroke-opacity="0.65"/>
<polyline points="553.30,211.76 576.03,164.57 598.76,153.93 621.49,147.93 644.22,144.66 666.95,140.56 689.68,139.20 712.41,135.11 735.14,133.74 757.87,130.20 780.60,126.92" fill="none" stroke="#FFA500" stroke-width="1.2" stroke-linejoin="round" stroke-dasharray="4.4 1.6"/>
<circle cx="553.30" cy="211.76" r="1.45" fill="#FFA500"/>
<circle cx="576.03" cy="164.57" r="1.45" fill="#FFA500"/>
<circle cx="598.76" cy="153.93" r="1.45" fill="#FFA500"/>
<circle cx="621.49" cy="147.93" r="1.45" fill="#FFA500"/>
<circle cx="644.22" cy="144.66" r="1.45" fill="#FFA500"/>
<circle cx="666.95" cy="140.56" r="1.45" fill="#FFA500"/>
<circle cx="689.68" cy="139.20" r="1.45" fill="#FFA500"/>
<circle cx="712.41" cy="135.11" r="1.45" fill="#FFA500"/>
<circle cx="735.14" cy="133.74" r="1.45" fill="#FFA500"/>
<circle cx="757.87" cy="130.20" r="1.45" fill="#FFA500"/>
<circle cx="780.60" cy="126.92" r="1.45" fill="#FFA500"/>
<path d="M553.30 209.04V214.49M576.03 162.11V167.02M598.76 151.48V156.39M621.49 145.47V150.38M644.22 142.20V147.11M666.95 138.11V143.02M689.68 136.74V141.65M712.41 132.65V137.56M735.14 131.29V136.20M757.87 127.74V132.65M780.60 124.47V129.38" fill="none" stroke="#333" stroke-width="0.5" stroke-opacity="0.5"/><path d="M552.30 209.04h2.0M552.30 214.49h2.0M575.03 162.11h2.0M575.03 167.02h2.0M597.76 151.48h2.0M597.76 156.39h2.0M620.49 145.47h2.0M620.49 150.38h2.0M643.22 142.20h2.0M643.22 147.11h2.0M665.95 138.11h2.0M665.95 143.02h2.0M688.68 136.74h2.0M688.68 141.65h2.0M711.41 132.65h2.0M711.41 137.56h2.0M734.14 131.29h2.0M734.14 136.20h2.0M756.87 127.74h2.0M756.87 132.65h2.0M779.60 124.47h2.0M779.60 129.38h2.0" fill="none" stroke="#222" stroke-width="0.6" stroke-opacity="0.65"/>
<polyline points="553.30,206.58 576.03,164.02 598.76,158.30 621.49,157.20 644.22,156.93 666.95,156.93 689.68,156.93 712.41,157.20 735.14,157.20 757.87,157.20 780.60,157.20" fill="none" stroke="#D3D3D3" stroke-width="1.2" stroke-linejoin="round"/>
<circle cx="553.30" cy="206.58" r="1.45" fill="#D3D3D3"/>
<circle cx="576.03" cy="164.02" r="1.45" fill="#D3D3D3"/>
<circle cx="598.76" cy="158.30" r="1.45" fill="#D3D3D3"/>
<circle cx="621.49" cy="157.20" r="1.45" fill="#D3D3D3"/>
<circle cx="644.22" cy="156.93" r="1.45" fill="#D3D3D3"/>
<circle cx="666.95" cy="156.93" r="1.45" fill="#D3D3D3"/>
<circle cx="689.68" cy="156.93" r="1.45" fill="#D3D3D3"/>
<circle cx="712.41" cy="157.20" r="1.45" fill="#D3D3D3"/>
<circle cx="735.14" cy="157.20" r="1.45" fill="#D3D3D3"/>
<circle cx="757.87" cy="157.20" r="1.45" fill="#D3D3D3"/>
<circle cx="780.60" cy="157.20" r="1.45" fill="#D3D3D3"/>
<path d="M553.30 203.85V209.31M576.03 163.66V164.39M598.76 157.93V158.66M621.49 156.84V157.57M644.22 156.56V157.30M666.95 156.56V157.30M689.68 156.56V157.30M712.41 156.84V157.57M735.14 156.84V157.57M757.87 156.84V157.57M780.60 156.84V157.57" fill="none" stroke="#333" stroke-width="0.5" stroke-opacity="0.5"/><path d="M552.30 203.85h2.0M552.30 209.31h2.0M575.03 163.66h2.0M575.03 164.39h2.0M597.76 157.93h2.0M597.76 158.66h2.0M620.49 156.84h2.0M620.49 157.57h2.0M643.22 156.56h2.0M643.22 157.30h2.0M665.95 156.56h2.0M665.95 157.30h2.0M688.68 156.56h2.0M688.68 157.30h2.0M711.41 156.84h2.0M711.41 157.57h2.0M734.14 156.84h2.0M734.14 157.57h2.0M756.87 156.84h2.0M756.87 157.57h2.0M779.60 156.84h2.0M779.60 157.57h2.0" fill="none" stroke="#222" stroke-width="0.6" stroke-opacity="0.65"/>
<polyline points="553.30,206.58 576.03,155.84 598.76,149.02 621.49,143.56 644.22,138.65 666.95,134.56 689.68,131.56 712.41,129.38 735.14,125.56 757.87,124.47 780.60,123.65" fill="none" stroke="#D3D3D3" stroke-width="1.2" stroke-linejoin="round" stroke-dasharray="4.4 1.6"/>
<circle cx="553.30" cy="206.58" r="1.45" fill="#D3D3D3"/>
<circle cx="576.03" cy="155.84" r="1.45" fill="#D3D3D3"/>
<circle cx="598.76" cy="149.02" r="1.45" fill="#D3D3D3"/>
<circle cx="621.49" cy="143.56" r="1.45" fill="#D3D3D3"/>
<circle cx="644.22" cy="138.65" r="1.45" fill="#D3D3D3"/>
<circle cx="666.95" cy="134.56" r="1.45" fill="#D3D3D3"/>
<circle cx="689.68" cy="131.56" r="1.45" fill="#D3D3D3"/>
<circle cx="712.41" cy="129.38" r="1.45" fill="#D3D3D3"/>
<circle cx="735.14" cy="125.56" r="1.45" fill="#D3D3D3"/>
<circle cx="757.87" cy="124.47" r="1.45" fill="#D3D3D3"/>
<circle cx="780.60" cy="123.65" r="1.45" fill="#D3D3D3"/>
<path d="M553.30 203.85V209.31M576.03 153.38V158.30M598.76 146.56V151.48M621.49 141.11V146.02M644.22 136.20V141.11M666.95 132.11V137.02M689.68 129.11V134.02M712.41 126.92V131.83M735.14 123.10V128.01M757.87 122.01V126.92M780.60 121.19V126.10" fill="none" stroke="#333" stroke-width="0.5" stroke-opacity="0.5"/><path d="M552.30 203.85h2.0M552.30 209.31h2.0M575.03 153.38h2.0M575.03 158.30h2.0M597.76 146.56h2.0M597.76 151.48h2.0M620.49 141.11h2.0M620.49 146.02h2.0M643.22 136.20h2.0M643.22 141.11h2.0M665.95 132.11h2.0M665.95 137.02h2.0M688.68 129.11h2.0M688.68 134.02h2.0M711.41 126.92h2.0M711.41 131.83h2.0M734.14 123.10h2.0M734.14 128.01h2.0M756.87 122.01h2.0M756.87 126.92h2.0M779.60 121.19h2.0M779.60 126.10h2.0" fill="none" stroke="#222" stroke-width="0.6" stroke-opacity="0.65"/>
<polyline points="553.30,215.58 576.03,159.93 598.76,152.29 621.49,146.56 644.22,143.29 666.95,140.56 689.68,139.47 712.41,138.11 735.14,138.11 757.87,137.29 780.60,137.29" fill="none" stroke="#00008B" stroke-width="1.2" stroke-linejoin="round"/>
<circle cx="553.30" cy="215.58" r="1.45" fill="#00008B"/>
<circle cx="576.03" cy="159.93" r="1.45" fill="#00008B"/>
<circle cx="598.76" cy="152.29" r="1.45" fill="#00008B"/>
<circle cx="621.49" cy="146.56" r="1.45" fill="#00008B"/>
<circle cx="644.22" cy="143.29" r="1.45" fill="#00008B"/>
<circle cx="666.95" cy="140.56" r="1.45" fill="#00008B"/>
<circle cx="689.68" cy="139.47" r="1.45" fill="#00008B"/>
<circle cx="712.41" cy="138.11" r="1.45" fill="#00008B"/>
<circle cx="735.14" cy="138.11" r="1.45" fill="#00008B"/>
<circle cx="757.87" cy="137.29" r="1.45" fill="#00008B"/>
<circle cx="780.60" cy="137.29" r="1.45" fill="#00008B"/>
<path d="M553.30 212.86V218.31M576.03 153.30V166.56M598.76 145.66V158.92M621.49 139.94V153.19M644.22 136.66V149.92M666.95 133.93V147.19M689.68 132.84V146.10M712.41 131.48V144.74M735.14 131.48V144.74M757.87 130.66V143.92M780.60 130.66V143.92" fill="none" stroke="#333" stroke-width="0.5" stroke-opacity="0.5"/><path d="M552.30 212.86h2.0M552.30 218.31h2.0M575.03 153.30h2.0M575.03 166.56h2.0M597.76 145.66h2.0M597.76 158.92h2.0M620.49 139.94h2.0M620.49 153.19h2.0M643.22 136.66h2.0M643.22 149.92h2.0M665.95 133.93h2.0M665.95 147.19h2.0M688.68 132.84h2.0M688.68 146.10h2.0M711.41 131.48h2.0M711.41 144.74h2.0M734.14 131.48h2.0M734.14 144.74h2.0M756.87 130.66h2.0M756.87 143.92h2.0M779.60 130.66h2.0M779.60 143.92h2.0" fill="none" stroke="#222" stroke-width="0.6" stroke-opacity="0.65"/>
<polyline points="553.30,215.58 576.03,153.11 598.76,145.20 621.49,138.38 644.22,135.11 666.95,128.29 689.68,127.20 712.41,126.38 735.14,124.20 757.87,122.83 780.60,121.74" fill="none" stroke="#00008B" stroke-width="1.2" stroke-linejoin="round" stroke-dasharray="4.4 1.6"/>
<circle cx="553.30" cy="215.58" r="1.45" fill="#00008B"/>
<circle cx="576.03" cy="153.11" r="1.45" fill="#00008B"/>
<circle cx="598.76" cy="145.20" r="1.45" fill="#00008B"/>
<circle cx="621.49" cy="138.38" r="1.45" fill="#00008B"/>
<circle cx="644.22" cy="135.11" r="1.45" fill="#00008B"/>
<circle cx="666.95" cy="128.29" r="1.45" fill="#00008B"/>
<circle cx="689.68" cy="127.20" r="1.45" fill="#00008B"/>
<circle cx="712.41" cy="126.38" r="1.45" fill="#00008B"/>
<circle cx="735.14" cy="124.20" r="1.45" fill="#00008B"/>
<circle cx="757.87" cy="122.83" r="1.45" fill="#00008B"/>
<circle cx="780.60" cy="121.74" r="1.45" fill="#00008B"/>
<path d="M553.30 212.86V218.31M576.03 150.66V155.57M598.76 142.75V147.66M621.49 135.93V140.84M644.22 132.65V137.56M666.95 125.83V130.74M689.68 124.74V129.65M712.41 123.92V128.83M735.14 121.74V126.65M757.87 120.38V125.29M780.60 119.28V124.20" fill="none" stroke="#333" stroke-width="0.5" stroke-opacity="0.5"/><path d="M552.30 212.86h2.0M552.30 218.31h2.0M575.03 150.66h2.0M575.03 155.57h2.0M597.76 142.75h2.0M597.76 147.66h2.0M620.49 135.93h2.0M620.49 140.84h2.0M643.22 132.65h2.0M643.22 137.56h2.0M665.95 125.83h2.0M665.95 130.74h2.0M688.68 124.74h2.0M688.68 129.65h2.0M711.41 123.92h2.0M711.41 128.83h2.0M734.14 121.74h2.0M734.14 126.65h2.0M756.87 120.38h2.0M756.87 125.29h2.0M779.60 119.28h2.0M779.60 124.20h2.0" fill="none" stroke="#222" stroke-width="0.6" stroke-opacity="0.65"/>
<polyline points="553.30,215.04 576.03,141.65 598.76,135.65 621.49,132.65 644.22,129.92 666.95,127.47 689.68,126.92 712.41,126.38 735.14,125.29 757.87,124.74 780.60,124.20" fill="none" stroke="#6495ED" stroke-width="1.2" stroke-linejoin="round"/>
<circle cx="553.30" cy="215.04" r="1.45" fill="#6495ED"/>
<circle cx="576.03" cy="141.65" r="1.45" fill="#6495ED"/>
<circle cx="598.76" cy="135.65" r="1.45" fill="#6495ED"/>
<circle cx="621.49" cy="132.65" r="1.45" fill="#6495ED"/>
<circle cx="644.22" cy="129.92" r="1.45" fill="#6495ED"/>
<circle cx="666.95" cy="127.47" r="1.45" fill="#6495ED"/>
<circle cx="689.68" cy="126.92" r="1.45" fill="#6495ED"/>
<circle cx="712.41" cy="126.38" r="1.45" fill="#6495ED"/>
<circle cx="735.14" cy="125.29" r="1.45" fill="#6495ED"/>
<circle cx="757.87" cy="124.74" r="1.45" fill="#6495ED"/>
<circle cx="780.60" cy="124.20" r="1.45" fill="#6495ED"/>
<path d="M553.30 212.31V217.77M576.03 139.20V144.11M598.76 133.20V138.11M621.49 130.20V135.11M644.22 127.47V132.38M666.95 125.01V129.92M689.68 124.47V129.38M712.41 123.92V128.83M735.14 122.83V127.74M757.87 122.29V127.20M780.60 121.74V126.65" fill="none" stroke="#333" stroke-width="0.5" stroke-opacity="0.5"/><path d="M552.30 212.31h2.0M552.30 217.77h2.0M575.03 139.20h2.0M575.03 144.11h2.0M597.76 133.20h2.0M597.76 138.11h2.0M620.49 130.20h2.0M620.49 135.11h2.0M643.22 127.47h2.0M643.22 132.38h2.0M665.95 125.01h2.0M665.95 129.92h2.0M688.68 124.47h2.0M688.68 129.38h2.0M711.41 123.92h2.0M711.41 128.83h2.0M734.14 122.83h2.0M734.14 127.74h2.0M756.87 122.29h2.0M756.87 127.20h2.0M779.60 121.74h2.0M779.60 126.65h2.0" fill="none" stroke="#222" stroke-width="0.6" stroke-opacity="0.65"/>
<polyline points="553.30,215.04 576.03,143.56 598.76,136.74 621.49,132.38 644.22,126.65 666.95,125.01 689.68,122.29 712.41,121.74 735.14,120.38 757.87,118.74 780.60,117.38" fill="none" stroke="#6495ED" stroke-width="1.2" stroke-linejoin="round" stroke-dasharray="4.4 1.6"/>
<circle cx="553.30" cy="215.04" r="1.45" fill="#6495ED"/>
<circle cx="576.03" cy="143.56" r="1.45" fill="#6495ED"/>
<circle cx="598.76" cy="136.74" r="1.45" fill="#6495ED"/>
<circle cx="621.49" cy="132.38" r="1.45" fill="#6495ED"/>
<circle cx="644.22" cy="126.65" r="1.45" fill="#6495ED"/>
<circle cx="666.95" cy="125.01" r="1.45" fill="#6495ED"/>
<circle cx="689.68" cy="122.29" r="1.45" fill="#6495ED"/>
<circle cx="712.41" cy="121.74" r="1.45" fill="#6495ED"/>
<circle cx="735.14" cy="120.38" r="1.45" fill="#6495ED"/>
<circle cx="757.87" cy="118.74" r="1.45" fill="#6495ED"/>
<circle cx="780.60" cy="117.38" r="1.45" fill="#6495ED"/>
<path d="M553.30 212.31V217.77M576.03 141.11V146.02M598.76 134.29V139.20M621.49 129.92V134.83M644.22 124.20V129.11M666.95 122.56V127.47M689.68 119.83V124.74M712.41 119.28V124.20M735.14 117.92V122.83M757.87 116.28V121.19M780.60 114.92V119.83" fill="none" stroke="#333" stroke-width="0.5" stroke-opacity="0.5"/><path d="M552.30 212.31h2.0M552.30 217.77h2.0M575.03 141.11h2.0M575.03 146.02h2.0M597.76 134.29h2.0M597.76 139.20h2.0M620.49 129.92h2.0M620.49 134.83h2.0M643.22 124.20h2.0M643.22 129.11h2.0M665.95 122.56h2.0M665.95 127.47h2.0M688.68 119.83h2.0M688.68 124.74h2.0M711.41 119.28h2.0M711.41 124.20h2.0M734.14 117.92h2.0M734.14 122.83h2.0M756.87 116.28h2.0M756.87 121.19h2.0M779.60 114.92h2.0M779.60 119.83h2.0" fill="none" stroke="#222" stroke-width="0.6" stroke-opacity="0.65"/>
<polyline points="553.30,213.40 576.03,144.66 598.76,136.74 621.49,132.11 644.22,128.29 666.95,125.83 689.68,124.20 712.41,125.29 735.14,125.29 757.87,124.74 780.60,124.20" fill="none" stroke="#ADD8E6" stroke-width="1.2" stroke-linejoin="round"/>
<circle cx="553.30" cy="213.40" r="1.45" fill="#ADD8E6"/>
<circle cx="576.03" cy="144.66" r="1.45" fill="#ADD8E6"/>
<circle cx="598.76" cy="136.74" r="1.45" fill="#ADD8E6"/>
<circle cx="621.49" cy="132.11" r="1.45" fill="#ADD8E6"/>
<circle cx="644.22" cy="128.29" r="1.45" fill="#ADD8E6"/>
<circle cx="666.95" cy="125.83" r="1.45" fill="#ADD8E6"/>
<circle cx="689.68" cy="124.20" r="1.45" fill="#ADD8E6"/>
<circle cx="712.41" cy="125.29" r="1.45" fill="#ADD8E6"/>
<circle cx="735.14" cy="125.29" r="1.45" fill="#ADD8E6"/>
<circle cx="757.87" cy="124.74" r="1.45" fill="#ADD8E6"/>
<circle cx="780.60" cy="124.20" r="1.45" fill="#ADD8E6"/>
<path d="M553.30 210.67V216.13M576.03 142.20V147.11M598.76 134.29V139.20M621.49 129.65V134.56M644.22 125.83V130.74M666.95 123.38V128.29M689.68 121.74V126.65M712.41 122.83V127.74M735.14 122.83V127.74M757.87 122.29V127.20M780.60 121.74V126.65" fill="none" stroke="#333" stroke-width="0.5" stroke-opacity="0.5"/><path d="M552.30 210.67h2.0M552.30 216.13h2.0M575.03 142.20h2.0M575.03 147.11h2.0M597.76 134.29h2.0M597.76 139.20h2.0M620.49 129.65h2.0M620.49 134.56h2.0M643.22 125.83h2.0M643.22 130.74h2.0M665.95 123.38h2.0M665.95 128.29h2.0M688.68 121.74h2.0M688.68 126.65h2.0M711.41 122.83h2.0M711.41 127.74h2.0M734.14 122.83h2.0M734.14 127.74h2.0M756.87 122.29h2.0M756.87 127.20h2.0M779.60 121.74h2.0M779.60 126.65h2.0" fill="none" stroke="#222" stroke-width="0.6" stroke-opacity="0.65"/>
<polyline points="553.30,213.40 576.03,146.84 598.76,138.65 621.49,132.65 644.22,128.56 666.95,126.38 689.68,124.20 712.41,123.10 735.14,121.74 757.87,120.38 780.60,118.74" fill="none" stroke="#ADD8E6" stroke-width="1.2" stroke-linejoin="round" stroke-dasharray="4.4 1.6"/>
<circle cx="553.30" cy="213.40" r="1.45" fill="#ADD8E6"/>
<circle cx="576.03" cy="146.84" r="1.45" fill="#ADD8E6"/>
<circle cx="598.76" cy="138.65" r="1.45" fill="#ADD8E6"/>
<circle cx="621.49" cy="132.65" r="1.45" fill="#ADD8E6"/>
<circle cx="644.22" cy="128.56" r="1.45" fill="#ADD8E6"/>
<circle cx="666.95" cy="126.38" r="1.45" fill="#ADD8E6"/>
<circle cx="689.68" cy="124.20" r="1.45" fill="#ADD8E6"/>
<circle cx="712.41" cy="123.10" r="1.45" fill="#ADD8E6"/>
<circle cx="735.14" cy="121.74" r="1.45" fill="#ADD8E6"/>
<circle cx="757.87" cy="120.38" r="1.45" fill="#ADD8E6"/>
<circle cx="780.60" cy="118.74" r="1.45" fill="#ADD8E6"/>
<path d="M553.30 210.67V216.13M576.03 144.38V149.29M598.76 136.20V141.11M621.49 130.20V135.11M644.22 126.10V131.02M666.95 123.92V128.83M689.68 121.74V126.65M712.41 120.65V125.56M735.14 119.28V124.20M757.87 117.92V122.83M780.60 116.28V121.19" fill="none" stroke="#333" stroke-width="0.5" stroke-opacity="0.5"/><path d="M552.30 210.67h2.0M552.30 216.13h2.0M575.03 144.38h2.0M575.03 149.29h2.0M597.76 136.20h2.0M597.76 141.11h2.0M620.49 130.20h2.0M620.49 135.11h2.0M643.22 126.10h2.0M643.22 131.02h2.0M665.95 123.92h2.0M665.95 128.83h2.0M688.68 121.74h2.0M688.68 126.65h2.0M711.41 120.65h2.0M711.41 125.56h2.0M734.14 119.28h2.0M734.14 124.20h2.0M756.87 117.92h2.0M756.87 122.83h2.0M779.60 116.28h2.0M779.60 121.19h2.0" fill="none" stroke="#222" stroke-width="0.6" stroke-opacity="0.65"/>
<path d="M42.7 70.9V234.4H292.4" fill="none" stroke="#7a7a7a" stroke-width="1.1"/>
<path d="M54.30 234.4v2.6 M76.91 234.4v2.6 M99.52 234.4v2.6 M122.13 234.4v2.6 M144.74 234.4v2.6 M167.35 234.4v2.6 M189.96 234.4v2.6 M212.57 234.4v2.6 M235.18 234.4v2.6 M257.79 234.4v2.6 M280.40 234.4v2.6 M42.7 210.40h-2.6 M42.7 183.12h-2.6 M42.7 155.84h-2.6 M42.7 128.56h-2.6 M42.7 101.28h-2.6 M42.7 74.00h-2.6" stroke="#666" stroke-width="1.0"/>
<text x="54.30" y="245.5" font-size="9.3" text-anchor="middle">0</text>
<text x="76.91" y="245.5" font-size="9.3" text-anchor="middle">5</text>
<text x="99.52" y="245.5" font-size="9.3" text-anchor="middle">10</text>
<text x="122.13" y="245.5" font-size="9.3" text-anchor="middle">15</text>
<text x="144.74" y="245.5" font-size="9.3" text-anchor="middle">20</text>
<text x="167.35" y="245.5" font-size="9.3" text-anchor="middle">25</text>
<text x="189.96" y="245.5" font-size="9.3" text-anchor="middle">30</text>
<text x="212.57" y="245.5" font-size="9.3" text-anchor="middle">35</text>
<text x="235.18" y="245.5" font-size="9.3" text-anchor="middle">40</text>
<text x="257.79" y="245.5" font-size="9.3" text-anchor="middle">45</text>
<text x="280.40" y="245.5" font-size="9.3" text-anchor="middle">50</text>
<path d="M292.2 70.9V234.4H541.9" fill="none" stroke="#7a7a7a" stroke-width="1.1"/>
<path d="M303.30 234.4v2.6 M326.02 234.4v2.6 M348.74 234.4v2.6 M371.46 234.4v2.6 M394.18 234.4v2.6 M416.90 234.4v2.6 M439.62 234.4v2.6 M462.34 234.4v2.6 M485.06 234.4v2.6 M507.78 234.4v2.6 M530.50 234.4v2.6" stroke="#666" stroke-width="1.0"/>
<text x="303.30" y="245.5" font-size="9.3" text-anchor="middle">0</text>
<text x="326.02" y="245.5" font-size="9.3" text-anchor="middle">5</text>
<text x="348.74" y="245.5" font-size="9.3" text-anchor="middle">10</text>
<text x="371.46" y="245.5" font-size="9.3" text-anchor="middle">15</text>
<text x="394.18" y="245.5" font-size="9.3" text-anchor="middle">20</text>
<text x="416.90" y="245.5" font-size="9.3" text-anchor="middle">25</text>
<text x="439.62" y="245.5" font-size="9.3" text-anchor="middle">30</text>
<text x="462.34" y="245.5" font-size="9.3" text-anchor="middle">35</text>
<text x="485.06" y="245.5" font-size="9.3" text-anchor="middle">40</text>
<text x="507.78" y="245.5" font-size="9.3" text-anchor="middle">45</text>
<text x="530.50" y="245.5" font-size="9.3" text-anchor="middle">50</text>
<path d="M542.2 70.9V234.4H791.9" fill="none" stroke="#7a7a7a" stroke-width="1.1"/>
<path d="M553.30 234.4v2.6 M576.03 234.4v2.6 M598.76 234.4v2.6 M621.49 234.4v2.6 M644.22 234.4v2.6 M666.95 234.4v2.6 M689.68 234.4v2.6 M712.41 234.4v2.6 M735.14 234.4v2.6 M757.87 234.4v2.6 M780.60 234.4v2.6" stroke="#666" stroke-width="1.0"/>
<text x="553.30" y="245.5" font-size="9.3" text-anchor="middle">0</text>
<text x="576.03" y="245.5" font-size="9.3" text-anchor="middle">5</text>
<text x="598.76" y="245.5" font-size="9.3" text-anchor="middle">10</text>
<text x="621.49" y="245.5" font-size="9.3" text-anchor="middle">15</text>
<text x="644.22" y="245.5" font-size="9.3" text-anchor="middle">20</text>
<text x="666.95" y="245.5" font-size="9.3" text-anchor="middle">25</text>
<text x="689.68" y="245.5" font-size="9.3" text-anchor="middle">30</text>
<text x="712.41" y="245.5" font-size="9.3" text-anchor="middle">35</text>
<text x="735.14" y="245.5" font-size="9.3" text-anchor="middle">40</text>
<text x="757.87" y="245.5" font-size="9.3" text-anchor="middle">45</text>
<text x="780.60" y="245.5" font-size="9.3" text-anchor="middle">50</text>
<text x="38.4" y="213.80" font-size="8.9" text-anchor="end">0.5</text>
<text x="38.4" y="186.52" font-size="8.9" text-anchor="end">0.6</text>
<text x="38.4" y="159.24" font-size="8.9" text-anchor="end">0.7</text>
<text x="38.4" y="131.96" font-size="8.9" text-anchor="end">0.8</text>
<text x="38.4" y="104.68" font-size="8.9" text-anchor="end">0.9</text>
<text x="38.4" y="77.40" font-size="8.9" text-anchor="end">1.0</text>
<text x="43.9" y="67.6" font-size="13.9" textLength="246.8" lengthAdjust="spacingAndGlyphs">Weighted Block Env: All Features Calibrated</text>
<text x="324.6" y="67.6" font-size="13.9" textLength="184.4" lengthAdjust="spacingAndGlyphs">Cup Env: All Features Calibrated</text>
<text x="567.0" y="67.6" font-size="13.9" textLength="199.7" lengthAdjust="spacingAndGlyphs">Utensil Env: All Features Calibrated</text>
<text x="352.4" y="261.8" font-size="15.8" textLength="130.0" lengthAdjust="spacingAndGlyphs">Number of Queries</text>
<text transform="translate(19.7 218.9) rotate(-90)" x="0" y="0" font-size="15.8" textLength="125.6" lengthAdjust="spacingAndGlyphs">Reward Accuracy</text>
<rect x="31.2" y="6.8" width="760" height="29.1" rx="2" ry="2" fill="#fff" stroke="#d9d9d9" stroke-width="0.9"/>
<path d="M34.2 13.7h18.6" stroke="#FFA500" stroke-width="1.3"/>
<path d="M43.5 9.1V18.1" stroke="#333" stroke-width="0.65" stroke-opacity="0.85" fill="none"/>
<path d="M42.3 9.1h2.4M42.3 18.1h2.4" stroke="#222" stroke-width="0.8" stroke-opacity="0.9" fill="none"/>
<circle cx="43.5" cy="13.6" r="1.75" fill="#FFA500"/>
<text x="59.4" y="16.7" font-size="9.6" textLength="106.5" lengthAdjust="spacingAndGlyphs">Calibrated Features, Frozen</text>
<path d="M34.2 27.0h18.1" stroke="#FFA500" stroke-width="1.3" stroke-dasharray="4.4 1.6"/>
<path d="M43.5 22.4V31.4" stroke="#333" stroke-width="0.65" stroke-opacity="0.85" fill="none"/>
<path d="M42.3 22.4h2.4M42.3 31.4h2.4" stroke="#222" stroke-width="0.8" stroke-opacity="0.9" fill="none"/>
<circle cx="43.5" cy="26.9" r="1.75" fill="#FFA500"/>
<text x="59.4" y="29.6" font-size="9.6" textLength="116.3" lengthAdjust="spacingAndGlyphs">Calibrated Features, Unfrozen</text>
<path d="M193.0 13.7h18.6" stroke="#D3D3D3" stroke-width="1.3"/>
<path d="M202.3 9.1V18.1" stroke="#333" stroke-width="0.65" stroke-opacity="0.85" fill="none"/>
<path d="M201.1 9.1h2.4M201.1 18.1h2.4" stroke="#222" stroke-width="0.8" stroke-opacity="0.9" fill="none"/>
<circle cx="202.3" cy="13.6" r="1.75" fill="#D3D3D3"/>
<text x="217.7" y="16.7" font-size="9.6" textLength="70.4" lengthAdjust="spacingAndGlyphs">SinglePref, Frozen</text>
<path d="M193.0 27.0h18.1" stroke="#D3D3D3" stroke-width="1.3" stroke-dasharray="4.4 1.6"/>
<path d="M202.3 22.4V31.4" stroke="#333" stroke-width="0.65" stroke-opacity="0.85" fill="none"/>
<path d="M201.1 22.4h2.4M201.1 31.4h2.4" stroke="#222" stroke-width="0.8" stroke-opacity="0.9" fill="none"/>
<circle cx="202.3" cy="26.9" r="1.75" fill="#D3D3D3"/>
<text x="217.7" y="29.6" font-size="9.6" textLength="80.3" lengthAdjust="spacingAndGlyphs">SinglePref, Unfrozen</text>
<path d="M315.5 13.7h18.6" stroke="#ADD8E6" stroke-width="1.3"/>
<path d="M324.8 9.1V18.1" stroke="#333" stroke-width="0.65" stroke-opacity="0.85" fill="none"/>
<path d="M323.6 9.1h2.4M323.6 18.1h2.4" stroke="#222" stroke-width="0.8" stroke-opacity="0.9" fill="none"/>
<circle cx="324.8" cy="13.6" r="1.75" fill="#ADD8E6"/>
<text x="340.4" y="16.7" font-size="9.6" textLength="81.3" lengthAdjust="spacingAndGlyphs">JointPref (10), Frozen</text>
<path d="M315.5 27.0h18.1" stroke="#ADD8E6" stroke-width="1.3" stroke-dasharray="4.4 1.6"/>
<path d="M324.8 22.4V31.4" stroke="#333" stroke-width="0.65" stroke-opacity="0.85" fill="none"/>
<path d="M323.6 22.4h2.4M323.6 31.4h2.4" stroke="#222" stroke-width="0.8" stroke-opacity="0.9" fill="none"/>
<circle cx="324.8" cy="26.9" r="1.75" fill="#ADD8E6"/>
<text x="340.4" y="29.6" font-size="9.6" textLength="91.3" lengthAdjust="spacingAndGlyphs">JointPref (10), Unfrozen</text>
<path d="M449.0 13.7h18.6" stroke="#6495ED" stroke-width="1.3"/>
<path d="M458.3 9.1V18.1" stroke="#333" stroke-width="0.65" stroke-opacity="0.85" fill="none"/>
<path d="M457.1 9.1h2.4M457.1 18.1h2.4" stroke="#222" stroke-width="0.8" stroke-opacity="0.9" fill="none"/>
<circle cx="458.3" cy="13.6" r="1.75" fill="#6495ED"/>
<text x="474.0" y="16.7" font-size="9.6" textLength="81.0" lengthAdjust="spacingAndGlyphs">JointPref (25), Frozen</text>
<path d="M449.0 27.0h18.1" stroke="#6495ED" stroke-width="1.3" stroke-dasharray="4.4 1.6"/>
<path d="M458.3 22.4V31.4" stroke="#333" stroke-width="0.65" stroke-opacity="0.85" fill="none"/>
<path d="M457.1 22.4h2.4M457.1 31.4h2.4" stroke="#222" stroke-width="0.8" stroke-opacity="0.9" fill="none"/>
<circle cx="458.3" cy="26.9" r="1.75" fill="#6495ED"/>
<text x="474.0" y="29.6" font-size="9.6" textLength="91.0" lengthAdjust="spacingAndGlyphs">JointPref (25), Unfrozen</text>
<path d="M582.5 13.7h18.6" stroke="#00008B" stroke-width="1.3"/>
<path d="M591.8 9.1V18.1" stroke="#333" stroke-width="0.65" stroke-opacity="0.85" fill="none"/>
<path d="M590.6 9.1h2.4M590.6 18.1h2.4" stroke="#222" stroke-width="0.8" stroke-opacity="0.9" fill="none"/>
<circle cx="591.8" cy="13.6" r="1.75" fill="#00008B"/>
<text x="607.4" y="16.7" font-size="9.6" textLength="81.5" lengthAdjust="spacingAndGlyphs">JointPref (50), Frozen</text>
<path d="M582.5 27.0h18.1" stroke="#00008B" stroke-width="1.3" stroke-dasharray="4.4 1.6"/>
<path d="M591.8 22.4V31.4" stroke="#333" stroke-width="0.65" stroke-opacity="0.85" fill="none"/>
<path d="M590.6 22.4h2.4M590.6 31.4h2.4" stroke="#222" stroke-width="0.8" stroke-opacity="0.9" fill="none"/>
<circle cx="591.8" cy="26.9" r="1.75" fill="#00008B"/>
<text x="607.4" y="29.6" font-size="9.6" textLength="91.5" lengthAdjust="spacingAndGlyphs">JointPref (50), Unfrozen</text>
<path d="M716.3 13.7h18.6" stroke="#000000" stroke-width="1.3"/>
<path d="M725.6 9.1V18.1" stroke="#333" stroke-width="0.65" stroke-opacity="0.85" fill="none"/>
<path d="M724.4 9.1h2.4M724.4 18.1h2.4" stroke="#222" stroke-width="0.8" stroke-opacity="0.9" fill="none"/>
<circle cx="725.6" cy="13.6" r="1.75" fill="#000000"/>
<text x="741.5" y="16.7" font-size="9.6" textLength="45.9" lengthAdjust="spacingAndGlyphs">RandomInit</text>
</svg></body></html>
